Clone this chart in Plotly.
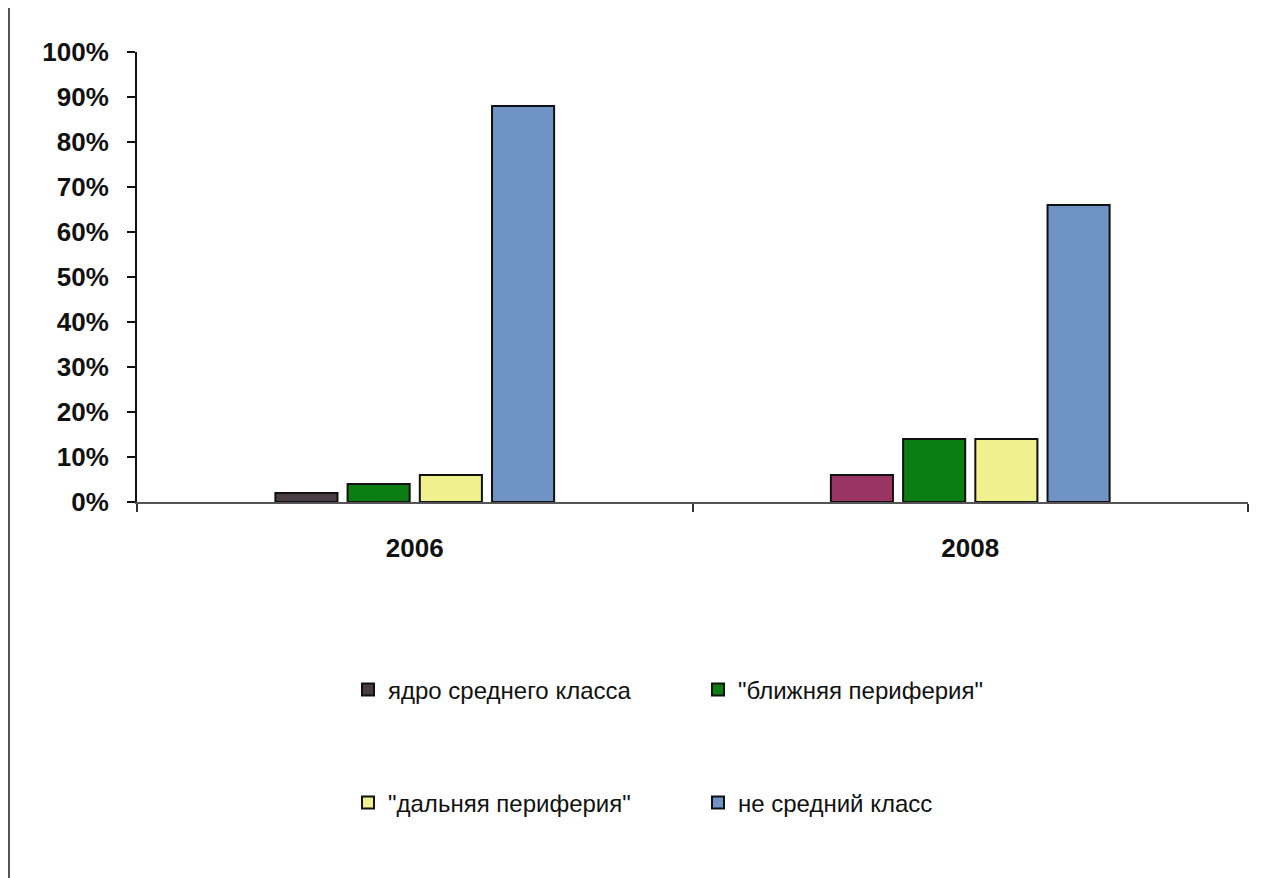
"""
Средний класс: распределение по группам, 2006 и 2008.
"""

import plotly.graph_objects as go

years = ["2006", "2008"]
series_names = [
    "ядро среднего класса",
    "\"ближняя периферия\"",
    "\"дальняя периферия\"",
    "не средний класс",
]
core_values = [2, 6]
near_values = [4, 14]
far_values = [6, 14]
non_middle_values = [88, 66]

y_tick_values = [0, 10, 20, 30, 40, 50, 60, 70, 80, 90, 100]

# страница смещает фигуру на 8px (отступ body)
W, H = 1256, 870
M_L, M_R, M_T, M_B = 129, 16, 44, 376
plot_w = W - M_L - M_R
plot_h = H - M_T - M_B

FONT = "Liberation Sans, Arial, sans-serif"

figure = go.Figure()
series = [
    (series_names[0], core_values, ["#4a3c44", "#9a3462"], "legend"),
    (series_names[1], near_values, "#0b7d12", "legend"),
    (series_names[2], far_values, "#f0f08e", "legend2"),
    (series_names[3], non_middle_values, "#6f93c4", "legend2"),
]
for name, values, color, legend_id in series:
    figure.add_trace(go.Bar(
        x=years,
        y=values,
        name=name,
        marker=dict(color=color, line=dict(color="#111111", width=2)),
        legend=legend_id,
    ))

legend_common = dict(
    orientation="h",
    xref="paper", yref="paper",
    xanchor="left", yanchor="middle",
    entrywidth=305, entrywidthmode="pixels",
    itemwidth=30,
    font=dict(family=FONT, size=24, color="#111111"),
    bgcolor="rgba(0,0,0,0)",
)

figure.update_layout(
    width=W, height=H,
    margin=dict(l=M_L, r=M_R, t=M_T, b=M_B),
    paper_bgcolor="white",
    plot_bgcolor="white",
    barmode="group",
    bargap=0.48,
    bargroupgap=0.14,
    showlegend=True,
    legend=dict(legend_common, x=(340 - M_L) / plot_w, y=(494 - 682) / plot_h),
    legend2=dict(legend_common, x=(340 - M_L) / plot_w, y=(494 - 795) / plot_h),
    xaxis=dict(
        type="category",
        showline=True, linecolor="#555555", linewidth=2,
        ticks="outside", ticklen=8, tickcolor="#333333", tickwidth=2,
        tickson="boundaries",
        ticklabelstandoff=22,
        tickfont=dict(family=FONT, size=26, color="#111111", weight="bold"),
        showgrid=False,
    ),
    yaxis=dict(
        range=[0, 100],
        tickvals=y_tick_values,
        ticktext=[f"{v}%" for v in y_tick_values],
        showline=True, linecolor="#111111", linewidth=2,
        ticks="outside", ticklen=8, tickcolor="#111111", tickwidth=2,
        ticklabelstandoff=13,
        tickfont=dict(family=FONT, size=26, color="#111111", weight="bold"),
        showgrid=False, zeroline=False,
    ),
    font=dict(family=FONT),
    shapes=[
        # край окна слева
        dict(type="line", xref="paper", yref="paper",
             x0=(1 - M_L) / plot_w, x1=(1 - M_L) / plot_w,
             y0=-M_B / plot_h, y1=1 + M_T / plot_h,
             line=dict(color="#555555", width=2), layer="below"),
    ],
)

figure.write_html("out.html")
